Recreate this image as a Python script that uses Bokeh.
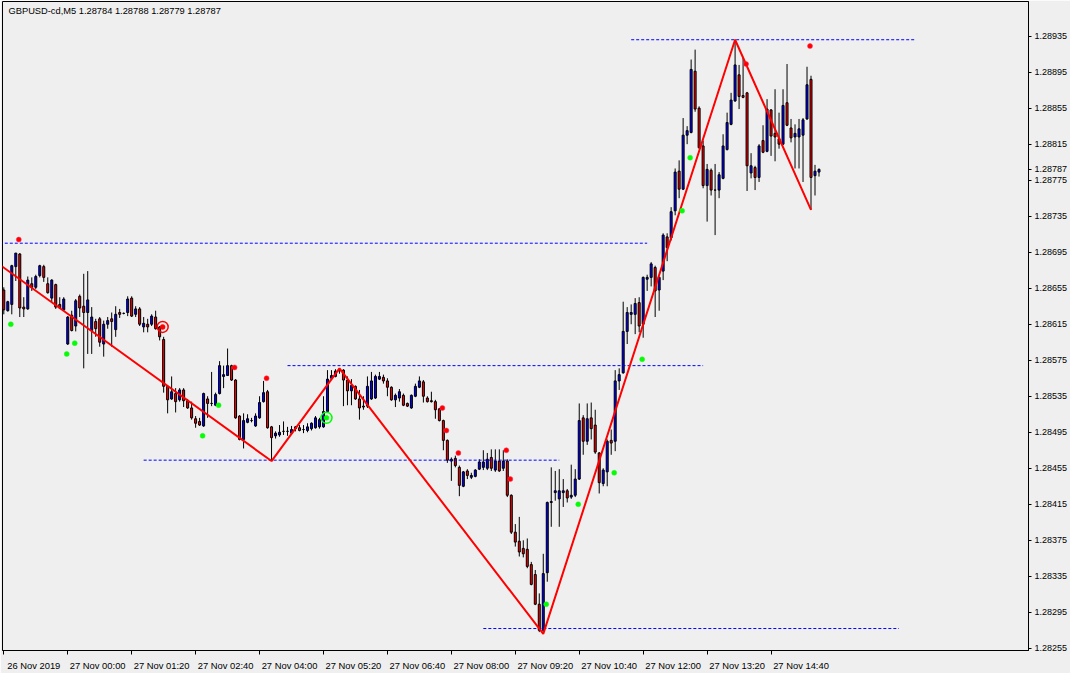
from bokeh.plotting import figure
from bokeh.models import Range1d, FixedTicker, ColumnDataSource, Label, PrintfTickFormatter
from bokeh.transform import dodge
from bokeh.embed import file_html
from bokeh.resources import INLINE

# ---------------- data (GBPUSD-cd, M5) ----------------
open_ = [1.28653,1.28630,1.28637,1.28679,1.28693,1.28634,1.28632,1.28660,1.28656,1.28669,
         1.28679,1.28660,1.28644,1.28659,1.28637,1.28631,1.28593,1.28625,1.28613,1.28646,
         1.28635,1.28628,1.28608,1.28618,1.28621,1.28593,1.28615,1.28621,1.28609,1.28628,
         1.28627,1.28628,1.28644,1.28626,1.28632,1.28612,1.28615,1.28615,1.28623,1.28612,
         1.28598,1.28546,1.28532,1.28538,1.28531,1.28542,1.28530,1.28522,1.28510,1.28507,
         1.28502,1.28532,1.28527,1.28525,1.28538,1.28557,1.28558,1.28569,1.28553,1.28513,
         1.28487,1.28506,1.28508,1.28502,1.28511,1.28529,1.28540,1.28501,1.28491,1.28492,
         1.28496,1.28496,1.28494,1.28499,1.28500,1.28498,1.28497,1.28499,1.28500,1.28501,
         1.28501,1.28518,1.28555,1.28557,1.28565,1.28564,1.28553,1.28541,1.28546,1.28532,
         1.28524,1.28524,1.28532,1.28533,1.28554,1.28556,1.28552,1.28545,1.28531,1.28533,
         1.28536,1.28527,1.28522,1.28535,1.28545,1.28551,1.28533,1.28530,1.28529,1.28521,
         1.28508,1.28486,1.28463,1.28466,1.28456,1.28435,1.28452,1.28445,1.28446,1.28454,
         1.28456,1.28455,1.28467,1.28453,1.28463,1.28455,1.28463,1.28425,1.28384,1.28374,
         1.28366,1.28365,1.28348,1.28337,1.28304,1.28275,1.28339,1.28417,1.28428,1.28421,
         1.28428,1.28430,1.28423,1.28425,1.28443,1.28511,1.28485,1.28511,1.28503,1.28472,
         1.28438,1.28451,1.28486,1.28485,1.28552,1.28561,1.28607,1.28626,1.28626,1.28639,
         1.28615,1.28665,1.28667,1.28678,1.28653,1.28674,1.28712,1.28711,1.28741,1.28785,
         1.28765,1.28825,1.28828,1.28896,1.28855,1.28813,1.28769,1.28786,1.28764,1.28764,
         1.28777,1.28809,1.28837,1.28863,1.28892,1.28869,1.28872,1.28783,1.28789,1.28778,
         1.28819,1.28807,1.28853,1.28827,1.28821,1.28815,1.28861,1.28833,1.28823,1.28823,
         1.28825,1.28843,1.28887,1.28780,1.28784]
high = [1.28656,1.28641,1.28681,1.28694,1.28694,1.28645,1.28668,1.28667,1.28670,1.28681,
        1.28681,1.28667,1.28665,1.28660,1.28645,1.28645,1.28624,1.28630,1.28643,1.28648,
        1.28671,1.28674,1.28634,1.28621,1.28623,1.28619,1.28623,1.28628,1.28635,1.28632,
        1.28628,1.28646,1.28646,1.28635,1.28634,1.28623,1.28621,1.28626,1.28630,1.28613,
        1.28601,1.28546,1.28557,1.28544,1.28544,1.28544,1.28532,1.28529,1.28513,1.28511,
        1.28539,1.28535,1.28562,1.28539,1.28574,1.28569,1.28588,1.28570,1.28554,1.28514,
        1.28516,1.28515,1.28511,1.28516,1.28535,1.28552,1.28542,1.28502,1.28496,1.28503,
        1.28507,1.28501,1.28502,1.28502,1.28503,1.28503,1.28505,1.28506,1.28513,1.28511,
        1.28535,1.28564,1.28564,1.28565,1.28566,1.28565,1.28557,1.28554,1.28547,1.28542,
        1.28535,1.28557,1.28562,1.28559,1.28562,1.28559,1.28555,1.28546,1.28538,1.28543,
        1.28538,1.28528,1.28537,1.28549,1.28557,1.28553,1.28535,1.28540,1.28531,1.28522,
        1.28509,1.28487,1.28467,1.28469,1.28458,1.28452,1.28454,1.28450,1.28454,1.28465,
        1.28475,1.28472,1.28476,1.28476,1.28476,1.28475,1.28465,1.28426,1.28393,1.28401,
        1.28375,1.28377,1.28351,1.28342,1.28316,1.28360,1.28418,1.28456,1.28452,1.28454,
        1.28443,1.28432,1.28459,1.28454,1.28527,1.28514,1.28527,1.28528,1.28520,1.28473,
        1.28455,1.28487,1.28498,1.28564,1.28566,1.28640,1.28634,1.28637,1.28644,1.28645,
        1.28668,1.28670,1.28684,1.28680,1.28668,1.28716,1.28716,1.28745,1.28788,1.28797,
        1.28844,1.28835,1.28909,1.28920,1.28857,1.28819,1.28793,1.28788,1.28793,1.28784,
        1.28826,1.28850,1.28872,1.28931,1.28903,1.28912,1.28873,1.28805,1.28791,1.28815,
        1.28836,1.28865,1.28854,1.28876,1.28850,1.28876,1.28904,1.28843,1.28837,1.28843,
        1.28844,1.28901,1.28891,1.28792,1.28788]
low = [1.28626,1.28629,1.28626,1.28663,1.28623,1.28623,1.28631,1.28652,1.28654,1.28667,
       1.28662,1.28649,1.28639,1.28632,1.28632,1.28630,1.28592,1.28607,1.28607,1.28623,
       1.28566,1.28582,1.28582,1.28601,1.28590,1.28579,1.28610,1.28590,1.28601,1.28622,
       1.28626,1.28624,1.28623,1.28623,1.28613,1.28606,1.28606,1.28613,1.28609,1.28597,
       1.28539,1.28516,1.28531,1.28517,1.28529,1.28523,1.28521,1.28509,1.28500,1.28502,
       1.28501,1.28511,1.28524,1.28524,1.28537,1.28544,1.28558,1.28552,1.28510,1.28486,
       1.28477,1.28505,1.28506,1.28501,1.28510,1.28528,1.28499,1.28463,1.28488,1.28490,
       1.28492,1.28491,1.28492,1.28496,1.28496,1.28494,1.28495,1.28497,1.28499,1.28499,
       1.28500,1.28517,1.28553,1.28556,1.28560,1.28524,1.28525,1.28525,1.28531,1.28509,
       1.28520,1.28522,1.28531,1.28532,1.28553,1.28549,1.28535,1.28530,1.28523,1.28529,
       1.28524,1.28523,1.28521,1.28534,1.28544,1.28528,1.28528,1.28528,1.28510,1.28507,
       1.28475,1.28461,1.28441,1.28456,1.28424,1.28434,1.28443,1.28443,1.28445,1.28453,
       1.28453,1.28453,1.28452,1.28451,1.28451,1.28452,1.28423,1.28382,1.28368,1.28357,
       1.28356,1.28344,1.28325,1.28303,1.28273,1.28271,1.28329,1.28390,1.28419,1.28390,
       1.28412,1.28417,1.28421,1.28423,1.28442,1.28470,1.28481,1.28487,1.28471,1.28427,
       1.28435,1.28435,1.28470,1.28474,1.28542,1.28560,1.28593,1.28615,1.28604,1.28606,
       1.28600,1.28652,1.28657,1.28623,1.28630,1.28664,1.28685,1.28708,1.28736,1.28755,
       1.28764,1.28815,1.28827,1.28851,1.28810,1.28766,1.28729,1.28758,1.28714,1.28755,
       1.28776,1.28808,1.28836,1.28862,1.28854,1.28866,1.28763,1.28777,1.28764,1.28773,
       1.28805,1.28806,1.28802,1.28796,1.28810,1.28814,1.28835,1.28817,1.28788,1.28788,
       1.28773,1.28842,1.28742,1.28758,1.28779]
close = [1.28631,1.28640,1.28680,1.28694,1.28633,1.28632,1.28664,1.28656,1.28668,1.28680,
         1.28667,1.28650,1.28664,1.28634,1.28633,1.28643,1.28623,1.28608,1.28641,1.28633,
         1.28628,1.28642,1.28623,1.28610,1.28595,1.28615,1.28619,1.28618,1.28626,1.28626,
         1.28627,1.28643,1.28624,1.28632,1.28615,1.28616,1.28612,1.28624,1.28610,1.28601,
         1.28546,1.28531,1.28540,1.28529,1.28542,1.28530,1.28522,1.28511,1.28505,1.28503,
         1.28538,1.28527,1.28527,1.28537,1.28569,1.28559,1.28569,1.28553,1.28511,1.28487,
         1.28508,1.28510,1.28508,1.28513,1.28528,1.28539,1.28500,1.28489,1.28494,1.28495,
         1.28496,1.28496,1.28498,1.28501,1.28497,1.28498,1.28501,1.28505,1.28511,1.28509,
         1.28518,1.28554,1.28558,1.28563,1.28563,1.28553,1.28541,1.28547,1.28532,1.28522,
         1.28523,1.28546,1.28552,1.28557,1.28557,1.28552,1.28545,1.28531,1.28536,1.28540,
         1.28525,1.28524,1.28536,1.28546,1.28552,1.28535,1.28529,1.28529,1.28520,1.28508,
         1.28486,1.28464,1.28465,1.28458,1.28436,1.28451,1.28447,1.28447,1.28453,1.28462,
         1.28462,1.28465,1.28455,1.28463,1.28452,1.28463,1.28425,1.28384,1.28373,1.28362,
         1.28360,1.28346,1.28326,1.28304,1.28275,1.28338,1.28417,1.28418,1.28430,1.28430,
         1.28430,1.28422,1.28425,1.28443,1.28508,1.28485,1.28510,1.28499,1.28473,1.28439,
         1.28453,1.28485,1.28483,1.28552,1.28559,1.28607,1.28628,1.28628,1.28638,1.28613,
         1.28667,1.28667,1.28682,1.28652,1.28667,1.28714,1.28700,1.28740,1.28784,1.28765,
         1.28825,1.28830,1.28898,1.28854,1.28811,1.28769,1.28787,1.28764,1.28764,1.28781,
         1.28813,1.28839,1.28864,1.28903,1.28868,1.28867,1.28791,1.28791,1.28778,1.28813,
         1.28806,1.28854,1.28824,1.28823,1.28815,1.28858,1.28836,1.28822,1.28827,1.28832,
         1.28842,1.28881,1.28778,1.28785,1.28787]

time_label_bars = [0, 16, 32, 48, 64, 80, 96, 112, 128, 144, 160, 176, 192]
time_labels = ["26 Nov 2019", "27 Nov 00:00", "27 Nov 01:20", "27 Nov 02:40", "27 Nov 04:00",
               "27 Nov 05:20", "27 Nov 06:40", "27 Nov 08:00", "27 Nov 09:20", "27 Nov 10:40",
               "27 Nov 12:00", "27 Nov 13:20", "27 Nov 14:40"]
price_ticks = [1.28255, 1.28295, 1.28335, 1.28375, 1.28415, 1.28455, 1.28495, 1.28535, 1.28575,
               1.28615, 1.28655, 1.28695, 1.28735, 1.28775, 1.28815, 1.28855, 1.28895, 1.28935]

zz_bars = [-1, 67, 84, 135, 183, 202]
zz_price = [1.28681, 1.28463, 1.28566, 1.28271, 1.28931, 1.28742]

lvl_price = [1.28705, 1.28464, 1.28569, 1.28277, 1.28931]
lvl_start = [-1, 35, 71, 120, 157]
lvl_end = [161, 139, 175, 224, 228]

up_frac_bars = [4, 58, 66, 110, 111, 114, 126, 127, 186, 202]
up_frac_price = [1.28709, 1.28567, 1.28555, 1.28522, 1.28497, 1.28472, 1.28475, 1.28443, 1.28904, 1.28924]
dn_frac_bars = [2, 16, 18, 50, 54, 135, 136, 144, 153, 160, 170, 172]
dn_frac_price = [1.28615, 1.28582, 1.28594, 1.28491, 1.28525, 1.28250, 1.28304, 1.28415, 1.28450,
                 1.28576, 1.28741, 1.28800]

sell_sig_bars = [40]
sell_sig_price = [1.28612]
buy_sig_bars = [81]
buy_sig_price = [1.28511]

symbol = "GBPUSD-cd,M5"
last_ohlc = ["1.28784", "1.28788", "1.28779", "1.28787"]
current_price = 1.28787

# ---------------- figure ----------------
FONT = "Liberation Sans"
BG = "#efefef"
W, H = 1070, 673
ML, MT, MR, MB = 2, 1, 41, 16        # frame borders (px)
PX_PER_BAR = 4.0
PX_PER_PRICE = 91000.0
x0 = -1.3 / PX_PER_BAR
x1 = x0 + (W - ML - MR) / PX_PER_BAR
y_top = 1.28935 + 35 / PX_PER_PRICE
y_bot = y_top - (H - MT - MB) / PX_PER_PRICE

p = figure(width=W, height=H, output_backend="svg", toolbar_location=None,
           x_range=Range1d(x0, x1), y_range=Range1d(y_bot, y_top),
           x_axis_location="below", y_axis_location="right",
           min_border_left=ML, min_border_top=MT, min_border_right=MR, min_border_bottom=MB)
p.background_fill_color = BG
p.border_fill_color = BG
p.outline_line_color = "black"
p.outline_line_width = 1
p.xgrid.visible = False
p.ygrid.visible = False

n = len(open_)
bars = list(range(n))
colors = ["blue" if c > o else ("red" if c < o else "black") for o, c in zip(open_, close)]
src = ColumnDataSource(dict(x=bars, open=open_, high=high, low=low, close=close,
                            top=[max(o, c) for o, c in zip(open_, close)],
                            bottom=[min(o, c) for o, c in zip(open_, close)],
                            color=colors))

# candles
p.segment(x0="x", y0="low", x1="x", y1="high", source=src, line_color="black", line_width=1)
p.vbar(x="x", width=0.5, top="top", bottom="bottom", source=src,
       fill_color="color", line_color="black", line_width=1)

# dashed levels
p.segment(x0=lvl_start, y0=lvl_price, x1=lvl_end, y1=lvl_price,
          line_color="#0000ff", line_width=1, line_dash="3 2")

# zigzag
p.line(zz_bars, zz_price, line_color="#ff0000", line_width=2)

# fractal dots
up_src = ColumnDataSource(dict(x=up_frac_bars, y=up_frac_price))
dn_src = ColumnDataSource(dict(x=dn_frac_bars, y=dn_frac_price))
p.scatter(x=dodge("x", -0.25, range=p.x_range), y="y", source=up_src, size=5,
          fill_color="#ff0000", line_color="#ff3366", line_width=0.5)
p.scatter(x=dodge("x", -0.25, range=p.x_range), y="y", source=dn_src, size=5,
          fill_color="#00ff00", line_color="#33ee33", line_width=0.5)

# signal circles
s_src = ColumnDataSource(dict(x=sell_sig_bars, y=sell_sig_price))
b_src = ColumnDataSource(dict(x=buy_sig_bars, y=buy_sig_price))
for s, col in ((s_src, "#ff0000"), (b_src, "#00ff00")):
    p.scatter(x=dodge("x", -0.25, range=p.x_range), y="y", source=s, size=11,
              fill_color=None, line_color=col, line_width=1.5)
    p.scatter(x=dodge("x", -0.25, range=p.x_range), y="y", source=s, size=5,
              fill_color=col, line_color=col, line_width=0.5)

# price axis (right), including the current-price mark
ya = p.yaxis[0]
ya.ticker = FixedTicker(ticks=price_ticks + [current_price])
ya.formatter = PrintfTickFormatter(format="%.5f")
ya.major_tick_out = 3
ya.major_tick_in = 0
ya.minor_tick_out = 0
ya.minor_tick_in = 0
ya.major_label_standoff = 3
ya.axis_line_color = "black"
ya.major_label_text_font = FONT
ya.major_label_text_font_size = "9px"
ya.major_label_text_color = "black"

# time axis (bottom): tick marks at the bars, labels to the right of each mark
xa = p.xaxis[0]
label_pos = [b + 7.5 for b in time_label_bars]
xa.ticker = FixedTicker(ticks=label_pos, minor_ticks=time_label_bars)
xa.major_label_overrides = {lp: t for lp, t in zip(label_pos, time_labels)}
xa.major_tick_line_color = None
xa.major_tick_out = 0
xa.major_tick_in = 0
xa.minor_tick_out = 4
xa.minor_tick_in = 0
xa.minor_tick_line_color = "black"
xa.major_label_standoff = 5
xa.axis_line_color = "black"
xa.major_label_text_font = FONT
xa.major_label_text_font_size = "9.4px"
xa.major_label_text_color = "black"

# header text
hdr = Label(x=x0 + 6 / PX_PER_BAR, y=y_top - 10 / PX_PER_PRICE,
            text=symbol + "  " + " ".join(last_ohlc),
            text_font=FONT, text_font_size="9.3px", text_color="black",
            text_baseline="middle", text_align="left")
p.add_layout(hdr)

open("out.html", "w").write(file_html(p, INLINE))
